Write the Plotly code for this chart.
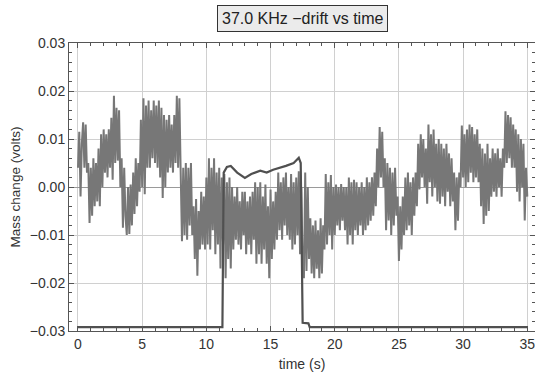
import plotly.graph_objects as go

mass_change = [
    0.004, 0.0115, -0.002, 0.009, 0.0135, 0.004, 0.013, 0.003, 0.005, -0.0075,
    0.004, -0.006, 0.006, -0.004, 0.005, -0.003, 0.008, -0.004, 0.011, 0.0,
    0.012, 0.003, 0.011, 0.002, 0.012, 0.004, 0.0144, 0.0015, 0.019, 0.005,
    0.0165, 0.0055, 0.016, 0.0, 0.006, -0.0085, 0.004, -0.006, -0.010, 0.0,
    -0.0098, 0.0005, -0.008, 0.003, -0.0056, 0.006, -0.004, 0.005, -0.001, 0.014,
    0.0, 0.0185, -0.0015, 0.017, 0.004, 0.018, 0.004, 0.016, 0.006, 0.018,
    0.005, 0.017, 0.004, 0.018, 0.002, 0.0165, -0.0023, 0.015, 0.0, 0.014,
    0.003, 0.015, 0.004, 0.013, 0.003, 0.015, 0.005, 0.019, 0.004, 0.0185,
    0.003, -0.0113, 0.004, -0.010, 0.005, -0.011, 0.004, -0.008, 0.005, -0.010,
    -0.004, -0.015, -0.0025, -0.0185, -0.005, -0.013, -0.001, -0.012, -0.002, -0.013,
    0.002, -0.012, 0.006, -0.013, 0.004, -0.009, 0.006, -0.014, 0.003, -0.012,
    0.004, -0.017, 0.002, -0.012, 0.0027, -0.019, 0.001, -0.015, 0.002, -0.017,
    0.0, -0.013, -0.002, -0.011, 0.0, -0.012, -0.003, -0.013, -0.001, -0.010,
    -0.001, -0.014, -0.003, -0.012, -0.002, -0.014, -0.001, -0.011, 0.001, -0.016,
    0.0, -0.014, 0.001, -0.016, -0.002, -0.013, 0.0005, -0.016, -0.004, -0.019,
    -0.0005, -0.015, -0.003, -0.013, -0.001, -0.011, 0.003, -0.009, 0.001, -0.011,
    0.002, -0.008, 0.003, -0.010, 0.0, -0.011, 0.0027, -0.013, 0.001, -0.012,
    0.002, -0.010, 0.0033, -0.014, 0.0, -0.017, -0.019, 0.003, -0.0175, 0.0,
    -0.015, -0.0065, -0.018, -0.008, -0.019, -0.007, -0.017, -0.009, -0.019, -0.0065,
    -0.018, -0.008, -0.013, 0.0027, -0.012, 0.001, -0.010, 0.0025, -0.013, 0.0,
    -0.010, 0.0005, -0.008, 0.0, -0.009, 0.0006, -0.007, 0.0, -0.009, 0.0,
    -0.012, 0.002, -0.010, 0.001, -0.012, 0.0015, -0.009, 0.001, -0.010, 0.0,
    -0.008, 0.001, -0.010, 0.0, -0.009, 0.002, -0.008, 0.001, -0.007, 0.002,
    -0.006, 0.003, -0.004, 0.008, 0.0, 0.0125, 0.002, 0.0115, 0.0, 0.006,
    -0.009, 0.005, -0.007, 0.004, -0.010, 0.003, -0.008, 0.004, -0.006, -0.002,
    -0.0154, -0.004, -0.013, -0.002, -0.010, 0.002, -0.009, 0.003, -0.008, 0.001,
    -0.010, 0.002, -0.006, 0.003, -0.004, 0.009, -0.0005, 0.011, 0.002, 0.010,
    0.0, 0.008, -0.0035, 0.013, 0.001, 0.011, -0.002, 0.012, 0.0, 0.009,
    -0.003, 0.010, -0.0035, 0.009, -0.002, 0.008, -0.004, 0.009, -0.001, 0.007,
    -0.004, 0.006, -0.003, 0.003, -0.009, 0.002, -0.007, 0.003, 0.0, 0.0128,
    0.002, 0.011, 0.0, 0.012, 0.001, 0.013, 0.003, 0.0125, 0.001, 0.011,
    0.002, 0.012, 0.001, 0.009, -0.004, 0.008, -0.0077, 0.007, -0.006, 0.009,
    -0.005, 0.006, -0.002, 0.008, -0.001, 0.007, -0.002, 0.008, 0.0, 0.006,
    -0.002, 0.008, 0.004, 0.0158, 0.005, 0.015, 0.006, 0.0145, 0.004, 0.013,
    0.004, 0.012, -0.001, 0.011, -0.003, 0.010, 0.0, 0.009, -0.007, 0.004, -0.002,
]
sample_step = 0.1
time_s = [round(i * sample_step, 1) for i in range(len(mass_change))]

# Step (reference) trace
step_time = [0, 11.25, 11.35, 11.6, 11.9, 12.4, 13.0, 13.5, 14.2, 14.7, 15.2, 15.8,
             16.2, 16.8, 17.2, 17.35, 17.45, 17.5, 17.95, 18.05, 35]
step_value = [-0.0292, -0.0292, 0.0030, 0.0042, 0.0044, 0.0030, 0.0019, 0.0027, 0.0034,
              0.0030, 0.0036, 0.0040, 0.0044, 0.0050, 0.0061, 0.0050, -0.0275, -0.0283,
              -0.0284, -0.0292, -0.0292]

y_ticks = [-0.03, -0.02, -0.01, 0.0, 0.01, 0.02, 0.03]
y_tick_text = ["\u22120.03", "\u22120.02", "\u22120.01", "0.00", "0.01", "0.02", "0.03"]
x_ticks = [0, 5, 10, 15, 20, 25, 30, 35]

FONT = "Liberation Sans, Arial, sans-serif"

fig = go.Figure()
fig.add_trace(go.Scatter(x=time_s, y=mass_change, mode="lines",
                         line=dict(color="#777777", width=2.0), showlegend=False))
fig.add_trace(go.Scatter(x=step_time, y=step_value, mode="lines",
                         line=dict(color="#505050", width=2.2), showlegend=False))

axis_common = dict(
    showline=True, linecolor="#555555", linewidth=1, mirror="ticks",
    ticks="inside", ticklen=5, tickcolor="#555555",
    showgrid=True, gridcolor="#d0d0d0", gridwidth=1,
    tickfont=dict(family=FONT, size=14, color="#333333"),
)

fig.update_xaxes(
    range=[-0.7, 35.6], tickvals=x_ticks, zeroline=False, ticklabeloverflow="allow",
    minor=dict(dtick=1, ticks="inside", ticklen=3, tickcolor="#555555", showgrid=False),
    title=dict(text="time (s)", font=dict(family=FONT, size=14, color="#333333"), standoff=8),
    **axis_common,
)
fig.update_yaxes(
    range=[-0.03, 0.03], tickvals=y_ticks, ticktext=y_tick_text,
    zeroline=True, zerolinecolor="#9a9a9a", zerolinewidth=1,
    minor=dict(dtick=0.002, ticks="inside", ticklen=3, tickcolor="#555555", showgrid=False),
    title=dict(text="Mass change (volts)", font=dict(family=FONT, size=13.5, color="#333333"), standoff=6),
    **axis_common,
)

fig.add_annotation(
    text="37.0 KHz \u2212drift vs time", xref="paper", yref="paper",
    x=0.5, y=1.0, xanchor="center", yanchor="middle", yshift=25, showarrow=False,
    font=dict(family=FONT, size=16, color="#222222"),
    bgcolor="#ebebeb", bordercolor="#333333", borderwidth=1, borderpad=4,
)

fig.update_layout(
    width=535, height=375,
    margin=dict(l=69, r=0, t=43, b=44),
    paper_bgcolor="white", plot_bgcolor="white",
)

fig.write_html("out.html")
